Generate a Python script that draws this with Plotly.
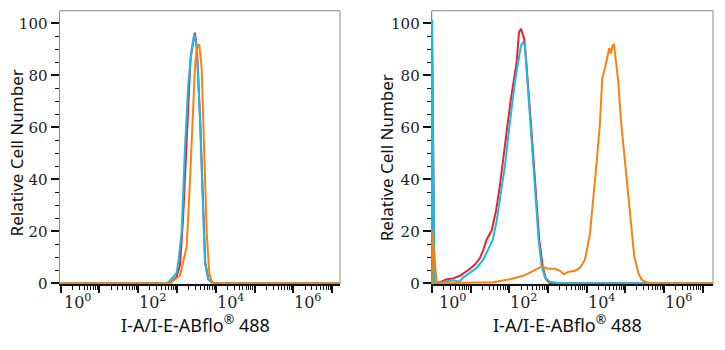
import plotly.graph_objects as go

# ---------------- data ----------------
# Left panel (log fluorescence intensity, relative cell number)
left_red_x = [1, 656, 977, 1188, 1419, 1767, 2028, 2215, 2421, 2647, 2891, 3258, 3963, 4652, 5333, 6442, 8420, 1.6e7]
left_red_y = [0, 0, 2.5, 7, 24, 55, 76, 86, 90, 94, 96.5, 90, 62, 32, 8, 1.5, 0, 0]

left_cyan_x = [1, 540, 656, 977, 1119, 1314, 1599, 1944, 2377, 2775, 3200, 3890, 4571, 5240, 6370, 8420, 1.6e7]
left_cyan_y = [0, 0, 1, 4, 10, 20, 52, 76.5, 90, 96, 91.5, 64, 33, 8, 1.5, 0, 0]

left_orange_x = [1, 656, 1188, 1767, 2148, 2523, 2891, 3200, 3733, 4305, 4936, 5794, 6761, 7706, 8930, 1.6e7]
left_orange_y = [0, 0, 3, 14, 39, 64, 83, 90, 92, 83, 52, 20, 4, 1, 0, 0]

# Right panel
right_red_x = [0.98, 1.0, 1.15, 1.6, 2.39, 3.54, 5.27, 7.10, 9.57, 12.9, 17.3, 21.1, 25.9, 34.8, 45.0, 57.1,
               72.5, 88.3, 108, 131, 155, 177, 200, 221, 243, 269, 308, 362, 433, 508, 594, 728, 885,
               1122, 1.8e7]
right_red_y = [0, 95, 0.3, 0.4, 1.6, 1.9, 2.9, 4.1, 5.6, 7.2, 9.7, 12.8, 16.9, 20.3, 27.8, 37.8,
               49, 60.3, 70.3, 79, 85.3, 96.5, 98, 95.9, 94, 86.5, 76.5, 61.5, 45.3, 30.3, 16.6, 6.6, 1.6,
               0, 0]

right_cyan_x = [0.98, 1.0, 1.15, 1.6, 2.39, 3.54, 5.06, 6.41, 9.57, 14.3, 21.1, 28.4, 37.0, 46.9, 59.6,
                76.9, 93.7, 115, 140, 170, 200, 229, 253, 290, 341, 401, 479, 573, 685, 834, 1122,
                2038, 1.8e7]
right_cyan_y = [0, 101.5, 0, 0.4, 1, 1.2, 0.6, 2.2, 4.1, 6, 9.1, 12.8, 16.6, 24, 34,
                45.3, 56.6, 67.8, 77.8, 85.3, 91.5, 93, 91.5, 79, 64, 49, 31.6, 16.6, 6.6, 2.2, 0.6,
                0, 0]

right_orange_x = [0.98, 1.0, 1.32, 38.3, 104, 229, 415, 685, 1015, 1513, 2038, 2587, 3340, 4980, 6710,
                  9040, 12170, 14830, 18150, 22080, 25330, 29740, 34920, 38430, 42540, 47090, 50830,
                  56260, 65730, 77140, 93940, 115000, 140000, 170600, 216400, 265000, 356800, 450000,
                  1.8e7]
right_orange_y = [0, 20, 0, 0.4, 1.6, 2.9, 4.8, 6.4, 5.6, 5.6, 4.8, 3.5, 4.4, 4.8, 6,
                  9.1, 19, 31.6, 46.5, 61.5, 79, 82.8, 87.2, 90.5, 88.4, 91.5, 92.1,
                  85.3, 77.8, 62.8, 49, 36.6, 21.6, 10.4, 4.1, 1.4, 0.4, 0,
                  0]

y_ticks = [0, 20, 40, 60, 80, 100]
x_decades = [0, 2, 4, 6]
x_title = "I-A/I-E-ABflo<sup>®</sup> 488"
y_title = "Relative Cell Number"

RED = "#e8242a"
CYAN = "#1bb9e8"
ORANGE = "#f9820f"

W, H = 725, 350

def px(x):
    return x / W

def py(y):
    return 1 - y / H

fig = go.Figure()

panels = [
    dict(xa="x", ya="y", dom=[px(59.5), px(340)], rng=[-0.03, 7.2],
         series=[(left_red_x, left_red_y, RED), (left_cyan_x, left_cyan_y, CYAN),
                 (left_orange_x, left_orange_y, ORANGE)],
         ytitle_x=16, ytitle_y=157, xtitle_x=196, shift0=1),
    dict(xa="x2", ya="y2", dom=[px(431.7), px(713)], rng=[-0.01, 7.27],
         series=[(right_red_x, right_red_y, RED), (right_cyan_x, right_cyan_y, CYAN),
                 (right_orange_x, right_orange_y, ORANGE)],
         ytitle_x=386, ytitle_y=162, xtitle_x=567, shift0=5),
]

minor_x = [k * 10 ** n for n in range(-1, 8) for k in range(2, 10)]
minor_y = [v for v in range(5, 105, 5) if v % 20]

annotations = []
shapes = []
for i, p in enumerate(panels):
    for xs, ys, c in p["series"]:
        fig.add_trace(go.Scatter(x=xs, y=ys, mode="lines", xaxis=p["xa"], yaxis=p["ya"],
                                 line=dict(color=c, width=2), showlegend=False, hoverinfo="skip"))
    suffix = "" if i == 0 else "2"
    fig.layout["xaxis" + suffix] = dict(
        type="log", domain=p["dom"], range=p["rng"], anchor=p["ya"],
        showgrid=False, zeroline=False, showline=True, linecolor="#111", linewidth=1.5,
        ticks="outside", ticklen=7, tickwidth=1.5, tickcolor="#111",
        tickvals=[10 ** k for k in range(0, 8)], showticklabels=False,
        minor=dict(tickvals=minor_x, ticks="outside", ticklen=4, tickwidth=1, tickcolor="#111"),
    )
    fig.layout["yaxis" + suffix] = dict(
        domain=[py(291), py(11)], range=[-0.4, 104.9], anchor=p["xa"],
        showgrid=False, zeroline=False, showline=True, linecolor="#8a8a8a", linewidth=1,
        ticks="outside", ticklen=8, tickwidth=1.5, tickcolor="#111",
        tickvals=y_ticks, ticktext=[str(v) for v in y_ticks],
        tickfont=dict(family="DejaVu Serif", size=15, color="#222"),
        minor=dict(tickvals=minor_y, ticks="outside", ticklen=4, tickwidth=1, tickcolor="#111"),
    )
    # grey frame (top and right)
    shapes.append(dict(type="rect", xref=p["xa"] + " domain", yref=p["ya"] + " domain",
                       x0=0, x1=1, y0=0, y1=1, line=dict(color="#8a8a8a", width=1), layer="below"))
    for d in x_decades:
        annotations.append(dict(x=d, xref=p["xa"], y=py(296), yref="paper",
                                text="10<sup>%d</sup>" % d, showarrow=False,
                                xanchor="left", yanchor="top",
                                xshift=p["shift0"] if d == 0 else -1,
                                font=dict(family="DejaVu Serif", size=16, color="#222")))
    annotations.append(dict(x=px(p["ytitle_x"]), y=py(p["ytitle_y"]), xref="paper", yref="paper",
                            text=y_title, textangle=-90, showarrow=False,
                            xanchor="center", yanchor="middle",
                            font=dict(family="Noto Sans", size=17, color="#111")))
    annotations.append(dict(x=px(p["xtitle_x"]), y=py(332), xref="paper", yref="paper",
                            text=x_title, showarrow=False,
                            xanchor="center", yanchor="middle",
                            font=dict(family="Noto Sans", size=18, color="#111")))

fig.update_layout(width=W, height=H, autosize=False, margin=dict(l=0, r=0, t=0, b=0),
                  plot_bgcolor="white", paper_bgcolor="white",
                  annotations=annotations, shapes=shapes)

fig.write_html("out.html")
